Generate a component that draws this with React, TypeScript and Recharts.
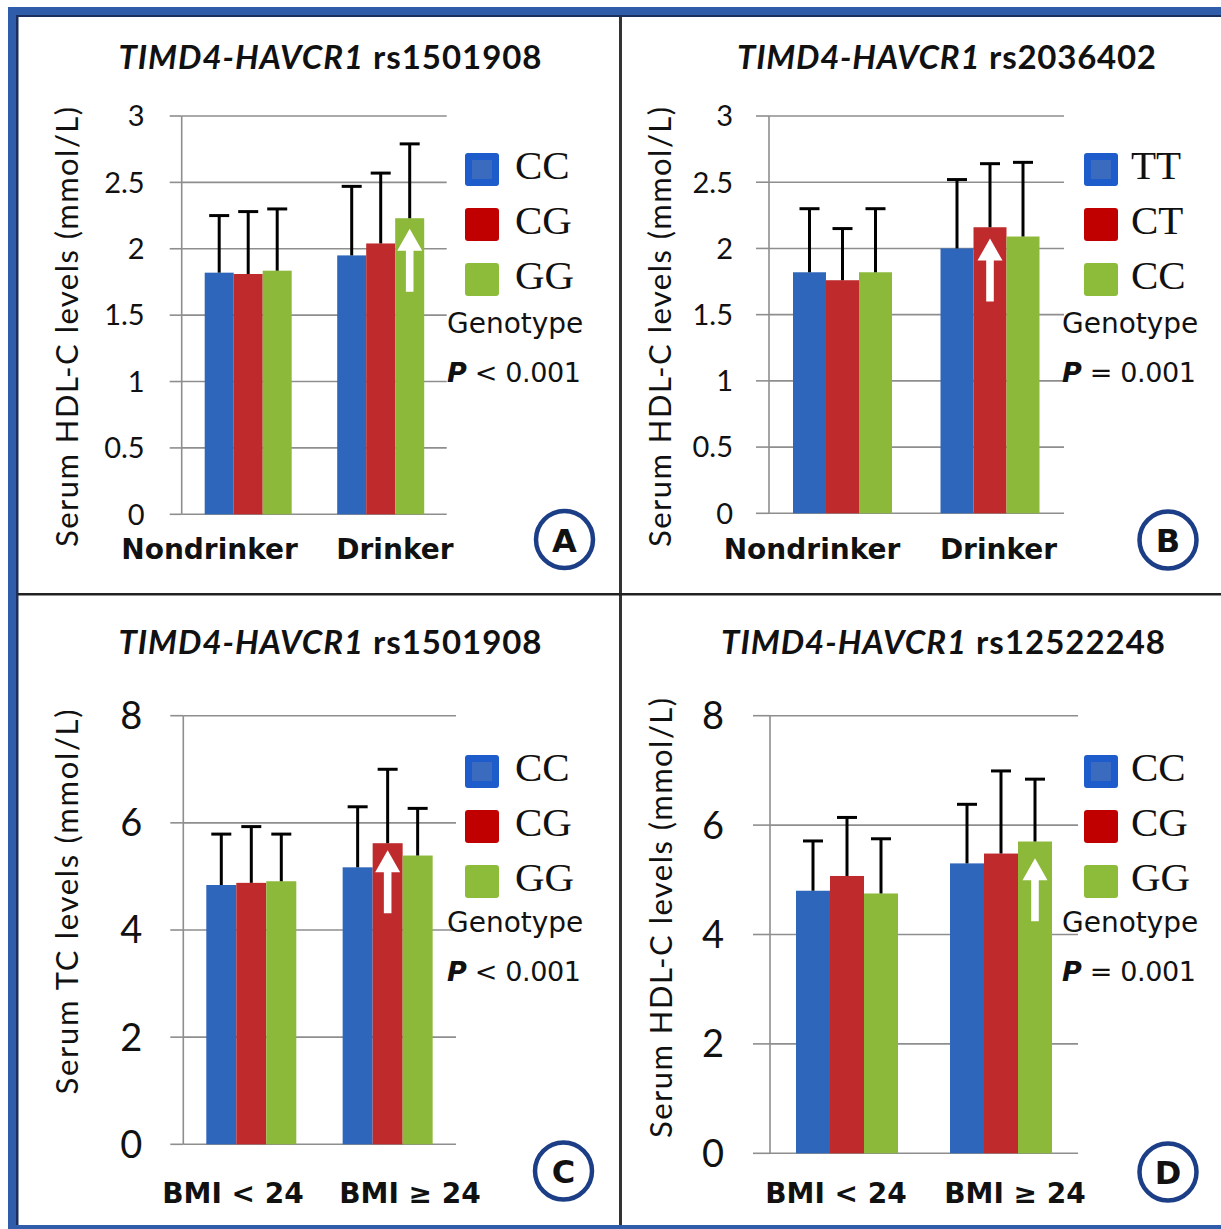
import React from 'react';
import { BarChart, Bar, XAxis, YAxis, CartesianGrid, Legend } from 'recharts';

// categories
const drinkGroups = ['Nondrinker', 'Drinker'];
const bmiGroups = ['BMI < 24', 'BMI ≥ 24'];

// genotypes per SNP
const genoRs1501908 = ['CC', 'CG', 'GG'];
const genoRs2036402 = ['TT', 'CT', 'CC'];
const genoRs12522248 = ['CC', 'CG', 'GG'];

// A: HDL-C (mmol/L) by drinking, rs1501908 - mean and SD
const aMeanCC = [1.82, 1.95];
const aMeanCG = [1.81, 2.04];
const aMeanGG = [1.835, 2.23];
const aSdCC = [0.43, 0.52];
const aSdCG = [0.47, 0.53];
const aSdGG = [0.465, 0.56];

// B: HDL-C by drinking, rs2036402
const bMeanTT = [1.82, 2.0];
const bMeanCT = [1.76, 2.16];
const bMeanCC = [1.82, 2.09];
const bSdTT = [0.48, 0.52];
const bSdCT = [0.39, 0.48];
const bSdCC = [0.48, 0.56];

// C: TC by BMI, rs1501908
const cMeanCC = [4.84, 5.17];
const cMeanCG = [4.88, 5.62];
const cMeanGG = [4.91, 5.39];
const cSdCC = [0.95, 1.13];
const cSdCG = [1.05, 1.38];
const cSdGG = [0.88, 0.88];

// D: HDL-C by BMI, rs12522248
const dMeanCC = [4.8, 5.3];
const dMeanCG = [5.07, 5.48];
const dMeanGG = [4.75, 5.7];
const dSdCC = [0.91, 1.08];
const dSdCG = [1.07, 1.51];
const dSdGG = [1.0, 1.14];

// axis ticks
const hdlTicks = [0, 0.5, 1, 1.5, 2, 2.5, 3];
const bmiTicks = [0, 2, 4, 6, 8];

const barColors = ['#2E66BB', '#BF2B2C', '#8CB939'];
const swatchColors = ['#1E5BCB', '#C00000', '#8DBB3A'];
const gridGray = '#8e8e8e';

const buildRows = (groups: string[], means: number[][], sds: number[][]) =>
  groups.map((g, i) => {
    const row: any = { group: g };
    means.forEach((m, s) => {
      row['m' + s] = m[i];
      row['sd' + s] = sds[s][i];
    });
    return row;
  });

const renderBar = (p: any, s: number, arrow: { series: number; index: number; gap: number }) => {
  const { x, y, width, height, fill, payload, index } = p;
  const mean = payload['m' + s];
  const unit = mean > 0 ? height / mean : 0;
  const top = y - payload['sd' + s] * unit;
  const cx = x + width / 2;
  const showArrow = arrow.series === s && arrow.index === index;
  const tip = y + arrow.gap;
  const base = tip + 22;
  const end = tip + 63;
  return (
    <g>
      <rect x={x} y={y} width={width} height={height} fill={fill} />
      <line x1={cx} x2={cx} y1={y} y2={top} stroke="#000" strokeWidth={3} />
      <line x1={cx - 10} x2={cx + 10} y1={top} y2={top} stroke="#000" strokeWidth={3} />
      {showArrow && (
        <path
          d={`M${cx},${tip} L${cx + 12.5},${base} L${cx + 3.8},${base} L${cx + 3.8},${end} L${cx - 3.8},${end} L${cx - 3.8},${base} L${cx - 12.5},${base} Z`}
          fill="#fff"
        />
      )}
    </g>
  );
};

const renderLegend = (textX: number) => ({ payload }: any) => (
  <svg width={150} height={170} style={{ display: 'block', overflow: 'visible' }}>
    {(payload || []).map((e: any, i: number) => (
      <g key={i}>
        <rect x={1} y={3 + i * 55} width={34} height={33} rx={3} fill={swatchColors[i]} />
        {i === 0 && <rect x={8} y={10 + i * 55} width={20} height={19} fill="#3A6BBE" />}
        <text x={textX} y={29 + i * 55} fontFamily="Liberation Serif" fontSize={41} fill="#111">
          {e.value}
        </text>
      </g>
    ))}
  </svg>
);

type PanelProps = {
  left: number;
  top: number;
  width: number;
  height: number;
  margin: { top: number; right: number; bottom: number; left: number };
  groups: string[];
  genotypes: string[];
  means: number[][];
  sds: number[][];
  ticks: number[];
  tickFont: number;
  tickSize: number;
  tickMargin: number;
  barSize: number;
  catDx: number[];
  catDy: number;
  arrow: { series: number; index: number; gap: number };
  legendLeft: number;
  legendTop: number;
  legendTextX: number;
};

const Panel = (p: PanelProps) => {
  const rows = buildRows(p.groups, p.means, p.sds);
  const max = p.ticks[p.ticks.length - 1];
  return (
    <div style={{ position: 'absolute', left: p.left, top: p.top }}>
      <BarChart width={p.width} height={p.height} data={rows} margin={p.margin} barGap={0}>
        <CartesianGrid vertical={false} stroke={gridGray} strokeWidth={1.6} />
        <XAxis
          dataKey="group"
          axisLine={false}
          tickLine={false}
          tickSize={0}
          tickMargin={0}
          height={40}
          interval={0}
          tick={(t: any) => (
            <text
              x={t.x + p.catDx[t.index]}
              y={t.y + p.catDy}
              textAnchor="middle"
              fontFamily="DejaVu Sans"
              fontWeight="bold"
              fontSize={28}
              fill="#111"
            >
              {t.payload.value}
            </text>
          )}
        />
        <YAxis
          width={60}
          domain={[0, max]}
          ticks={p.ticks}
          interval={0}
          axisLine={{ stroke: gridGray, strokeWidth: 1.6 }}
          tickLine={{ stroke: gridGray, strokeWidth: 1.6 }}
          tickSize={p.tickSize}
          tickMargin={p.tickMargin}
          tick={{ fontFamily: 'Lato', fontSize: p.tickFont, fill: '#111' }}
        />
        <Legend
          layout="vertical"
          align="center"
          verticalAlign="middle"
          itemSorter="dataKey"
          wrapperStyle={{ left: p.legendLeft, top: p.legendTop, width: 150, height: 170 }}
          content={renderLegend(p.legendTextX)}
        />
        {p.genotypes.map((g, s) => (
          <Bar
            key={g + s}
            dataKey={'m' + s}
            name={g}
            fill={barColors[s]}
            barSize={p.barSize}
            isAnimationActive={false}
            shape={(bp: any) => renderBar(bp, s, p.arrow)}
          />
        ))}
      </BarChart>
    </div>
  );
};

const blue = '#2F5DAA';
const navy = '#1B2F5E';

const Title = ({ x, y, snp, len }: { x: number; y: number; snp: string; len: number }) => (
  <text
    x={x}
    y={y}
    textAnchor="middle"
    fontFamily="Lato"
    fontWeight="bold"
    fontSize={33}
    fill="#111"
    textLength={len}
    lengthAdjust="spacing"
  >
    <tspan fontStyle="italic">TIMD4-HAVCR1</tspan> {snp}
  </text>
);

const YLabel = ({ x, y, text, len }: { x: number; y: number; text: string; len: number }) => (
  <text
    transform={`translate(${x},${y}) rotate(-90)`}
    textAnchor="middle"
    dominantBaseline="central"
    fontFamily="Lato"
    fontSize={31}
    fill="#111"
    textLength={len}
    lengthAdjust="spacing"
  >
    {text}
  </text>
);

const Stat = ({ x, y, op, p }: { x: number; y: number; op: string; p: string }) => (
  <g fontFamily="DejaVu Sans" fill="#111">
    <text x={x} y={y} fontSize={28}>Genotype</text>
    <text x={x} y={y + 49} fontSize={27} textLength={134} lengthAdjust="spacing">
      <tspan fontStyle="italic" fontWeight="bold">P</tspan> {op} {p}
    </text>
  </g>
);

const Badge = ({ x, y, letter }: { x: number; y: number; letter: string }) => (
  <g>
    <circle cx={x} cy={y} r={28.5} fill="#fff" stroke="#1B3E86" strokeWidth={4.5} />
    <text x={x} y={y + 12} textAnchor="middle" fontFamily="DejaVu Sans" fontWeight="bold" fontSize={32} fill="#111">
      {letter}
    </text>
  </g>
);

export default function App() {
  return (
    <div style={{ position: 'absolute', left: 0, top: 0, width: 1221, height: 1229, background: '#fff', overflow: 'hidden' }}>
      <Panel
        left={0}
        top={0}
        width={600}
        height={595}
        margin={{ top: 116, right: 153.3, bottom: 40.7, left: 121.7 }}
        groups={drinkGroups}
        genotypes={genoRs1501908}
        means={[aMeanCC, aMeanCG, aMeanGG]}
        sds={[aSdCC, aSdCG, aSdGG]}
        ticks={hdlTicks}
        tickFont={29}
        tickSize={12}
        tickMargin={25}
        barSize={29}
        catDx={[-38.4, 14.5]}
        catDy={44.7}
        arrow={{ series: 2, index: 1, gap: 10.5 }}
        legendLeft={464}
        legendTop={150}
        legendTextX={51}
      />
      <Panel
        left={620}
        top={0}
        width={600}
        height={595}
        margin={{ top: 116, right: 156, bottom: 41.7, left: 89 }}
        groups={drinkGroups}
        genotypes={genoRs2036402}
        means={[bMeanTT, bMeanCT, bMeanCC]}
        sds={[bSdTT, bSdCT, bSdCC]}
        ticks={hdlTicks}
        tickFont={29}
        tickSize={13}
        tickMargin={23}
        barSize={33}
        catDx={[-30.75, 8.25]}
        catDy={45.7}
        arrow={{ series: 1, index: 1, gap: 11.3 }}
        legendLeft={463}
        legendTop={150}
        legendTextX={48}
      />
      <Panel
        left={0}
        top={595}
        width={600}
        height={634}
        margin={{ top: 120.7, right: 144, bottom: 44.7, left: 123.3 }}
        groups={bmiGroups}
        genotypes={genoRs1501908}
        means={[cMeanCC, cMeanCG, cMeanGG]}
        sds={[cSdCC, cSdCG, cSdGG]}
        ticks={bmiTicks}
        tickFont={38}
        tickSize={13}
        tickMargin={28}
        barSize={30}
        catDx={[-18.5, 22.2]}
        catDy={58.7}
        arrow={{ series: 1, index: 1, gap: 7 }}
        legendLeft={464}
        legendTop={157}
        legendTextX={51}
      />
      <Panel
        left={620}
        top={595}
        width={600}
        height={634}
        margin={{ top: 120.7, right: 142, bottom: 35.7, left: 90 }}
        groups={bmiGroups}
        genotypes={genoRs12522248}
        means={[dMeanCC, dMeanCG, dMeanGG]}
        sds={[dSdCC, dSdCG, dSdGG]}
        ticks={bmiTicks}
        tickFont={38}
        tickSize={17}
        tickMargin={29}
        barSize={34}
        catDx={[-11, 14]}
        catDy={49.7}
        arrow={{ series: 2, index: 1, gap: 16.7 }}
        legendLeft={463}
        legendTop={157}
        legendTextX={48}
      />
      <svg width={1221} height={1229} style={{ position: 'absolute', left: 0, top: 0, pointerEvents: 'none' }}>
        {/* frame */}
        <rect x={8} y={7} width={1213} height={8} fill={blue} />
        <rect x={8} y={15} width={1213} height={2} fill={navy} />
        <rect x={8} y={7} width={8} height={1222} fill={blue} />
        <rect x={16} y={15} width={2.5} height={1214} fill={navy} />
        <rect x={619} y={17} width={3} height={1212} fill="#333" />
        <rect x={18} y={593} width={1203} height={2.5} fill="#222" />
        <rect x={8} y={1225} width={1213} height={4} fill={blue} />

        <Title x={330} y={69} snp="rs1501908" len={423} />
        <Title x={946.5} y={69} snp="rs2036402" len={419} />
        <Title x={330} y={654} snp="rs1501908" len={423} />
        <Title x={943} y={654} snp="rs12522248" len={444} />

        <YLabel x={66} y={327} text="Serum HDL-C levels (mmol/L)" len={440} />
        <YLabel x={659} y={327} text="Serum HDL-C levels (mmol/L)" len={440} />
        <YLabel x={66} y={902} text="Serum TC levels (mmol/L)" len={385} />
        <YLabel x={660} y={918} text="Serum HDL-C levels (mmol/L)" len={440} />

        <Stat x={447} y={333} op="<" p="0.001" />
        <Stat x={1062} y={333} op="=" p="0.001" />
        <Stat x={447} y={932} op="<" p="0.001" />
        <Stat x={1062} y={932} op="=" p="0.001" />

        <Badge x={564.5} y={539.5} letter="A" />
        <Badge x={1168} y={540} letter="B" />
        <Badge x={563.5} y={1171} letter="C" />
        <Badge x={1168} y={1172} letter="D" />
      </svg>
    </div>
  );
}
